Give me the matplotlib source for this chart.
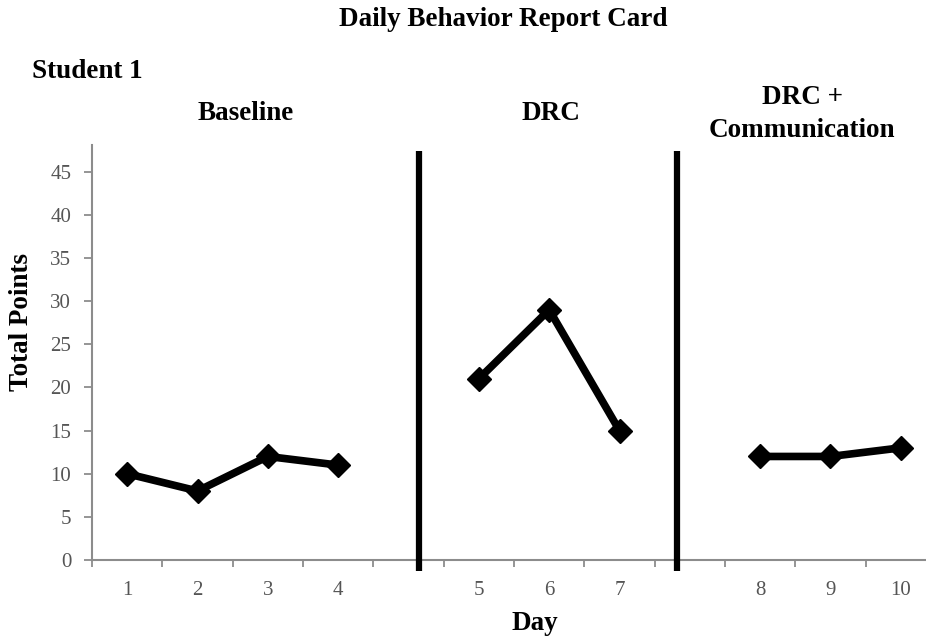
import matplotlib
matplotlib.use("Agg")
import matplotlib.pyplot as plt

# ---- data ----
slot_labels = ["1", "2", "3", "4", "", "5", "6", "7", "", "8", "9", "10"]
baseline_days = ["1", "2", "3", "4"]
baseline_pts = [10, 8, 12, 11]
drc_days = ["5", "6", "7"]
drc_pts = [21, 29, 15]
comm_days = ["8", "9", "10"]
comm_pts = [12, 12, 13]
phase_names = ["Baseline", "DRC", "DRC +\nCommunication"]
phase_lines = [4.15, 7.82]   # category-axis positions of phase change lines
yticks = [0, 5, 10, 15, 20, 25, 30, 35, 40, 45]

W, H = 926, 639
fig = plt.figure(figsize=(W / 100, H / 100), dpi=100)
serif = ["Liberation Serif", "DejaVu Serif"]
plt.rcParams["font.family"] = serif

left, right, bottom, top = 92 / W, 936 / W, 1 - 560 / H, 1 - 145 / H
ax = fig.add_axes([left, bottom, right - left, top - bottom])

xpos = {lab: i for i, lab in enumerate(slot_labels) if lab}
for days, pts in [(baseline_days, baseline_pts), (drc_days, drc_pts), (comm_days, comm_pts)]:
    ax.plot([xpos[d] for d in days], pts, color="black", lw=5.5,
            marker="D", markersize=12, markerfacecolor="black",
            markeredgecolor="black", solid_joinstyle="miter", zorder=3)

ax.set_xlim(-0.5, len(slot_labels) - 0.5)
ax.set_ylim(0, 48.1)

for xl in phase_lines:
    ax.plot([xl, xl], [-1.25, 47.4], color="black", lw=4.5, clip_on=False,
            solid_capstyle="butt", zorder=4)

gray_axis = "#8c8c8c"
for s in ["top", "right"]:
    ax.spines[s].set_visible(False)
for s in ["left", "bottom"]:
    ax.spines[s].set_color(gray_axis)
    ax.spines[s].set_linewidth(1.5)

ax.set_yticks(yticks)
ax.set_yticklabels([str(v) for v in yticks])
ax.set_xticks(range(len(slot_labels)))
ax.set_xticklabels(slot_labels)
ax.set_xticks([i + 0.5 for i in range(-1, len(slot_labels) - 1)], minor=True)
ax.tick_params(axis="x", which="major", length=0, pad=15, labelsize=15, labelcolor="#555555")
ax.tick_params(axis="x", which="minor", length=5, width=1.3, color=gray_axis, direction="out")
ax.tick_params(axis="y", length=6, width=1.3, color=gray_axis, pad=9,
               labelsize=15, labelcolor="#555555")

bold = dict(fontsize=19.5, fontweight="bold")
fig.text(22 / W, 1 - 322 / H, "Total Points", ha="center", va="center",
         rotation=90, **bold)
fig.text(535 / W, 1 - 624 / H, "Day", ha="center", va="center", **bold)

fig.text(503 / W, 1 - 19 / H, "Daily Behavior Report Card", ha="center", va="center", **bold)
fig.text(32 / W, 1 - 71 / H, "Student 1", ha="left", va="center", **bold)
phase_x = [246, 551, 802]
phase_y = [113, 113, 98]
line_gap = 32
for name, px, py in zip(phase_names, phase_x, phase_y):
    for k, line in enumerate(name.split("\n")):
        fig.text(px / W, 1 - (py + k * line_gap) / H, line, ha="center", va="center", **bold)

fig.savefig("out.png", dpi=100)
